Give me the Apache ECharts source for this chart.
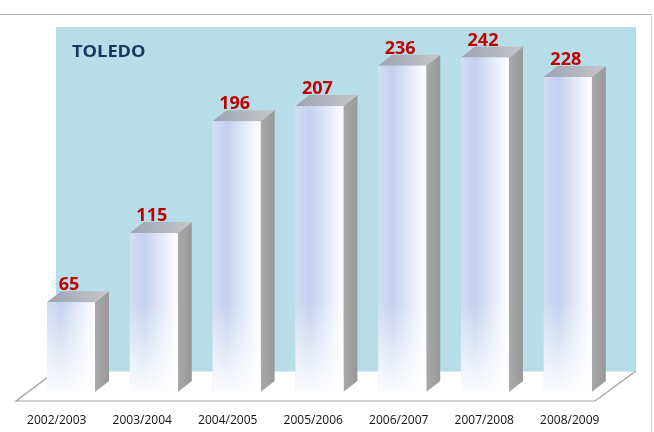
<!DOCTYPE html>
<html>
<head>
<meta charset="utf-8">
<script src="https://cdn.jsdelivr.net/npm/echarts@6/dist/echarts.min.js"></script>
<style>
  html, body { margin: 0; padding: 0; background: #fff; }
  #chart { width: 654px; height: 432px; }
</style>
</head>
<body>
<div id="chart"></div>
<script>
"use strict";

var seasons = ['2002/2003', '2003/2004', '2004/2005', '2005/2006', '2006/2007', '2007/2008', '2008/2009'];
var students = [65, 115, 196, 207, 236, 242, 228];
var chartTitle = 'TOLEDO';

var font = '"Open Sans", "Noto Sans", sans-serif';
var depthX = 14, depthY = 11;

var renderBar = function(params, api) {
  var idx = api.value(0);
  var val = api.value(1);
  var base = api.coord([idx, 0]);
  var top = api.coord([idx, val]);
  var w = api.size([1, 0])[0] * 0.58;
  var x0 = top[0] - w / 2;
  var x1 = top[0] + w / 2;

  return {
    type: 'group',
    children: [
      {
        type: 'polygon',
        shape: { points: [[x1, top[1]], [x1 + depthX, top[1] - depthY], [x1 + depthX, base[1] - depthY], [x1, base[1]]] },
        style: {
          fill: new echarts.graphic.LinearGradient(0, 0, 1, 0, [
            { offset: 0, color: '#a9a9a9' },
            { offset: 1, color: '#989898' }
          ])
        }
      },
      {
        type: 'polygon',
        shape: { points: [[x0, top[1]], [x0 + depthX, top[1] - depthY], [x1 + depthX, top[1] - depthY], [x1, top[1]]] },
        style: {
          fill: new echarts.graphic.LinearGradient(0, 0, 1, 0, [
            { offset: 0, color: '#9ca3b6' },
            { offset: 1, color: '#c6c6c6' }
          ])
        }
      },
      {
        type: 'rect',
        shape: { x: x0, y: top[1], width: w, height: base[1] - top[1] },
        style: {
          fill: new echarts.graphic.LinearGradient(0, 0, 1, 0, [
            { offset: 0, color: '#d3ddf3' },
            { offset: 0.3, color: '#c3d1ef' },
            { offset: 0.8, color: '#eef2fb' },
            { offset: 1, color: '#ffffff' }
          ])
        }
      },
      {
        type: 'rect',
        shape: { x: x0, y: top[1], width: w, height: base[1] - top[1] },
        style: {
          fill: new echarts.graphic.LinearGradient(0, base[1] - 90, 0, base[1], [
            { offset: 0, color: 'rgba(255,255,255,0)' },
            { offset: 1, color: 'rgba(255,255,255,0.92)' }
          ], true)
        }
      },
      {
        type: 'text',
        style: {
          text: String(val),
          x: top[0] - 2,
          y: top[1] - 8,
          align: 'center',
          verticalAlign: 'bottom',
          fill: '#c00000',
          font: 'bold 18px ' + font
        }
      }
    ]
  };
};

var chart = echarts.init(document.getElementById('chart'));
chart.setOption({
  animation: false,
  backgroundColor: '#ffffff',
  graphic: [
    { type: 'line', shape: { x1: 0, y1: 14.5, x2: 651.5, y2: 14.5 }, style: { stroke: '#b4b4b4', lineWidth: 1 } },
    { type: 'line', shape: { x1: 651.5, y1: 14.5, x2: 651.5, y2: 432 }, style: { stroke: '#d0d0d0', lineWidth: 1 } },
    { type: 'rect', shape: { x: 56, y: 27, width: 580, height: 344 }, style: { fill: '#b7dee8' } },
    { type: 'polygon', shape: { points: [[16, 401], [56, 371], [636, 371], [595, 401]] }, style: { fill: '#ffffff' } },
    { type: 'line', shape: { x1: 56, y1: 371.5, x2: 636, y2: 371.5 }, style: { stroke: '#d8eef3', lineWidth: 1 } },
    { type: 'polyline', shape: { points: [[56, 371], [16, 401], [595, 401], [636, 371]] }, style: { stroke: '#a0a0a0', lineWidth: 1.2, fill: null } },
    {
      type: 'text',
      x: 72,
      y: 52,
      scaleX: 1.14,
      style: { text: chartTitle, x: 0, y: 0, verticalAlign: 'middle', fill: '#17375e', font: 'bold 16px ' + font }
    }
  ],
  grid: [
    { left: 14, width: 598.5, top: 30, bottom: 27 },
    { left: 29.6, width: 579.6, top: 32.7, bottom: 40 }
  ],
  xAxis: [
    {
      gridIndex: 0,
      type: 'category',
      data: seasons,
      axisLine: { show: false },
      axisTick: { show: false },
      axisLabel: { margin: 10, fontSize: 12, color: '#111', fontFamily: font }
    },
    { gridIndex: 1, type: 'category', data: seasons, show: false }
  ],
  yAxis: [
    { gridIndex: 0, type: 'value', show: false },
    { gridIndex: 1, type: 'value', min: 0, max: 260, show: false }
  ],
  series: [
    {
      type: 'custom',
      xAxisIndex: 1,
      yAxisIndex: 1,
      renderItem: renderBar,
      data: students.map(function(v, i) { return [i, v]; })
    }
  ]
});
</script>
</body>
</html>
